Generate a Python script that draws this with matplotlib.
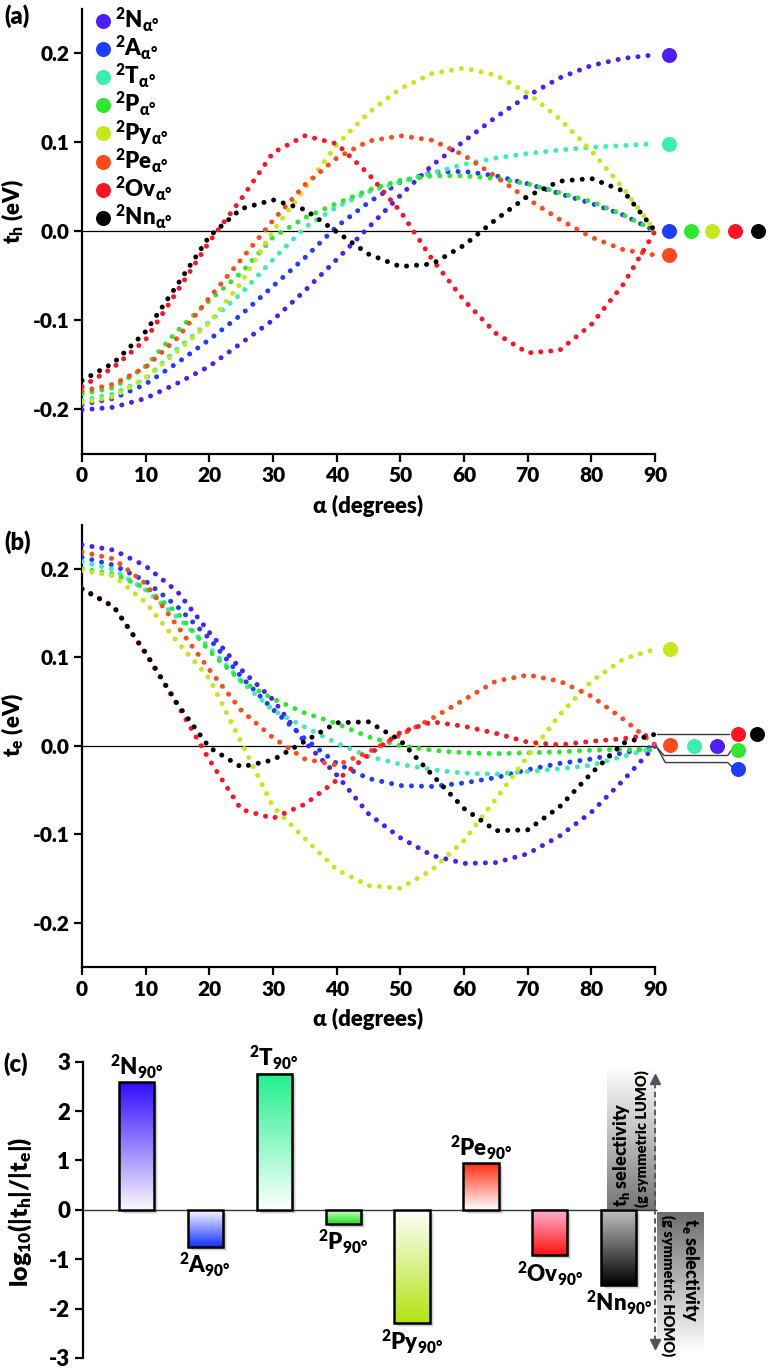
import numpy as np
import matplotlib
matplotlib.use("Agg")
import matplotlib.pyplot as plt
from matplotlib.colors import LinearSegmentedColormap
from matplotlib.patches import Rectangle
from matplotlib.transforms import offset_copy

# --- fonts
WEIGHT = 'heavy'
plt.rcParams['font.family'] = ['Lato', 'DejaVu Sans']
plt.rcParams['font.weight'] = WEIGHT
plt.rcParams['mathtext.fontset'] = 'custom'
for key in ['rm', 'it', 'bf', 'sf']:
    plt.rcParams['mathtext.' + key] = 'Lato:' + WEIGHT
plt.rcParams['mathtext.default'] = 'bf'
plt.rcParams['axes.linewidth'] = 1.6

# --- data (5 degree steps)
angle = [0, 5, 10, 15, 20, 25, 30, 35, 40, 45, 50, 55, 60, 65, 70, 75, 80, 85, 90]

systems = ['N', 'A', 'T', 'P', 'Py', 'Pe', 'Ov', 'Nn']
colors = ['#4b1ff5', '#1f3dff', '#3ceeb0', '#2ee82e', '#c5e81a', '#ff4a1c', '#ff1426', '#000000']

# hole transfer integral t_h (eV)
th_N = [-0.201, -0.198, -0.188, -0.171, -0.152, -0.126, -0.100, -0.067, -0.032, 0.004,
        0.040, 0.074, 0.101, 0.128, 0.152, 0.172, 0.186, 0.194, 0.198]
th_A = [-0.195, -0.188, -0.172, -0.148, -0.122, -0.094, -0.062, -0.030, 0.005, 0.032,
        0.055, 0.066, 0.067, 0.062, 0.053, 0.042, 0.031, 0.018, 0.000]
th_T = [-0.190, -0.183, -0.166, -0.132, -0.102, -0.070, -0.032, 0.004, 0.027, 0.044,
        0.055, 0.065, 0.075, 0.082, 0.087, 0.091, 0.094, 0.096, 0.098]
th_P = [-0.183, -0.176, -0.152, -0.112, -0.078, -0.047, -0.007, 0.015, 0.031, 0.046,
        0.057, 0.062, 0.062, 0.059, 0.053, 0.043, 0.033, 0.018, 0.000]
th_Py = [-0.193, -0.186, -0.165, -0.135, -0.103, -0.058, 0.000, 0.048, 0.097, 0.133,
         0.160, 0.177, 0.183, 0.175, 0.155, 0.126, 0.090, 0.048, 0.000]
th_Pe = [-0.180, -0.172, -0.153, -0.120, -0.075, -0.032, 0.012, 0.052, 0.082, 0.101,
         0.107, 0.102, 0.085, 0.061, 0.036, 0.013, -0.007, -0.021, -0.027]
th_Ov = [-0.175, -0.153, -0.122, -0.067, -0.012, 0.036, 0.088, 0.107, 0.098, 0.064,
         0.022, -0.032, -0.078, -0.115, -0.137, -0.134, -0.105, -0.060, 0.000]
th_Nn = [-0.168, -0.148, -0.113, -0.060, -0.006, 0.025, 0.035, 0.024, -0.001, -0.026,
         -0.040, -0.037, -0.016, 0.013, 0.039, 0.056, 0.059, 0.045, 0.000]

# electron transfer integral t_e (eV)
te_N = [0.227, 0.221, 0.203, 0.174, 0.128, 0.086, 0.052, 0.004, -0.033, -0.077,
        -0.104, -0.124, -0.133, -0.132, -0.122, -0.102, -0.075, -0.039, 0.000]
te_A = [0.213, 0.204, 0.186, 0.157, 0.121, 0.078, 0.041, 0.008, -0.020, -0.037,
        -0.045, -0.046, -0.042, -0.036, -0.027, -0.020, -0.015, -0.008, -0.001]
te_T = [0.208, 0.199, 0.176, 0.145, 0.111, 0.073, 0.040, 0.021, 0.003, -0.012,
        -0.021, -0.027, -0.031, -0.032, -0.029, -0.026, -0.022, -0.012, -0.002]
te_P = [0.200, 0.194, 0.178, 0.150, 0.107, 0.073, 0.053, 0.037, 0.025, 0.010,
        0.000, -0.005, -0.008, -0.009, -0.008, -0.007, -0.005, -0.004, -0.005]
te_Py = [0.198, 0.192, 0.162, 0.117, 0.076, 0.004, -0.069, -0.105, -0.140, -0.158,
         -0.161, -0.140, -0.107, -0.060, -0.012, 0.035, 0.073, 0.098, 0.109]
te_Pe = [0.219, 0.211, 0.183, 0.135, 0.086, 0.040, 0.009, -0.015, -0.022, -0.007,
         0.012, 0.031, 0.052, 0.073, 0.080, 0.073, 0.056, 0.030, 0.001]
te_Ov = [0.178, 0.157, 0.104, 0.046, -0.016, -0.072, -0.082, -0.066, -0.039, -0.010,
         0.015, 0.027, 0.022, 0.014, 0.004, 0.001, 0.005, 0.008, 0.013]
te_Nn = [0.177, 0.157, 0.105, 0.047, -0.002, -0.024, -0.016, 0.005, 0.026, 0.027,
         0.006, -0.033, -0.071, -0.096, -0.095, -0.069, -0.031, 0.003, 0.013]

# log10(|th|/|te|) at 90 degrees
log_ratio = [2.58, -0.75, 2.76, -0.28, -2.30, 0.94, -0.92, -1.52]

th_all = [th_N, th_A, th_T, th_P, th_Py, th_Pe, th_Ov, th_Nn]
te_all = [te_N, te_A, te_T, te_P, te_Py, te_Pe, te_Ov, te_Nn]

# --- layout helpers (pixel based, figure is 771 x 1370)
W, H = 771, 1370
fig = plt.figure(figsize=(W / 100, H / 100), dpi=100)


def px_axes(left, top, right, bottom):
    return fig.add_axes([left / W, 1 - bottom / H, (right - left) / W, (bottom - top) / H])


dot_style = dict(linestyle=(0, (0.01, 2.0)), linewidth=3.6, dash_capstyle='round')
tick_fs = 15
label_fs = 16


def style_curve_axes(ax, ylabel, ylab_y):
    ax.set_xlim(0, 108.2)
    ax.set_ylim(-0.25, 0.25)
    ax.spines['top'].set_visible(False)
    ax.spines['right'].set_visible(False)
    ax.spines['bottom'].set_bounds(0, 90)
    ax.set_xticks(range(0, 91, 10))
    ax.set_yticks([-0.2, -0.1, 0.0, 0.1, 0.2])
    ax.set_yticklabels(['-0.2', '-0.1', '0.0', '0.1', '0.2'])
    ax.tick_params(direction='out', length=5.5, width=1.6, labelsize=tick_fs, pad=3.5)
    for lab in ax.get_xticklabels() + ax.get_yticklabels():
        lab.set_fontweight(WEIGHT)
    ax.set_xlabel('α (degrees)', fontsize=label_fs, fontweight=WEIGHT)
    ax.xaxis.set_label_coords(90 / 2 / 108.2, -0.092)
    ax.set_ylabel(ylabel, fontsize=label_fs, fontweight=WEIGHT)
    ax.yaxis.set_label_coords(-0.082, ylab_y)
    ax.hlines(0, 0, 90, color='black', linewidth=0.9, zorder=1)


# --- Panel (a): t_h
ax_a = px_axes(82, 8.5, 771, 453.5)
style_curve_axes(ax_a, 't$_h$ (eV)', 0.543)
for ys, col in zip(th_all, colors):
    ax_a.plot(angle, ys, color=col, zorder=3, **dot_style)

a_marker_x = [92.2, 92.2, 92.2, 95.6, 99.0, 92.2, 102.6, 106.2]
for ys, col, mx in zip(th_all, colors, a_marker_x):
    ax_a.plot(mx, ys[-1], 'o', color=col, markersize=10.8, markeredgewidth=0, zorder=4, clip_on=False)

# legend drawn by hand
for i, (name, col) in enumerate(zip(systems, colors)):
    ypx = 21 + 28.1 * i
    yfrac = (453.5 - ypx) / 445
    ax_a.plot(0.030, yfrac, 'o', color=col, markersize=10.8, markeredgewidth=0,
              transform=ax_a.transAxes, clip_on=False)
    ax_a.text(0.048, yfrac - 7.5 / 445, '$^{2}$' + name + '$_{α°}$', transform=ax_a.transAxes,
              fontsize=label_fs, fontweight=WEIGHT, va='baseline', ha='left')

# --- Panel (b): t_e
ax_b = px_axes(82, 524.5, 771, 967)
style_curve_axes(ax_b, 't$_e$ (eV)', 0.547)
for ys, col in zip(te_all, colors):
    ax_b.plot(angle, ys, color=col, zorder=3, **dot_style)

b_marker_x = [99.7, 103.0, 96.1, 103.0, 92.4, 92.4, 103.0, 106.0]
b_marker_dy = [0.0, -0.025, 0.002, 0.0, 0.0, 0.0, 0.0, 0.0]
for ys, col, mx, dy in zip(te_all, colors, b_marker_x, b_marker_dy):
    ax_b.plot(mx, ys[-1] + dy, 'o', color=col, markersize=10.8, markeredgewidth=0, zorder=4, clip_on=False)

# guide lines from the curve ends to the offset markers
guide = dict(color='#3a3a3a', linewidth=1.0, zorder=2, clip_on=False)
ax_b.plot([90.3, 101.6], [0.013, 0.013], **guide)
ax_b.plot([90.3, 91.4, 101.4, 101.9], [-0.002, -0.011, -0.011, -0.006], **guide)
ax_b.plot([90.3, 91.6, 101.4, 102.1], [-0.002, -0.019, -0.019, -0.024], **guide)

# --- Panel (c): log ratio bars
ax_c = px_axes(83.3, 1061.7, 771, 1358)
ax_c.set_xlim(0.228, 10.21)
ax_c.set_ylim(-3, 3)
for s in ['top', 'right', 'bottom']:
    ax_c.spines[s].set_visible(False)
ax_c.set_xticks([])
ax_c.set_yticks(range(-3, 4))
ax_c.set_yticklabels([str(v) for v in range(-3, 4)])
ax_c.tick_params(direction='out', length=5.5, width=1.6, labelsize=tick_fs + 1, pad=4)
for lab in ax_c.get_yticklabels():
    lab.set_fontweight(WEIGHT)
ax_c.set_ylabel('log$_{10}$(|t$_h$|/|t$_e$|)', fontsize=18, fontweight=WEIGHT)
ax_c.yaxis.set_label_coords(-0.072, 0.494)

bar_x = np.arange(1, len(systems) + 1)
grad_near = ['#fdf8fc', '#ffffff', '#ffffff', '#c8ffc8', '#ffffff', '#ffffff', '#ffb4d2', '#c4c4c4']
grad_far = ['#300cff', '#1030ff', '#1ff08c', '#1fe01f', '#b2e310', '#ff2e10', '#ff1212', '#000000']

bars = ax_c.bar(bar_x, log_ratio, width=0.51, facecolor='none', edgecolor='black',
                linewidth=1.8, zorder=5)
grad = np.linspace(0, 1, 256).reshape(-1, 1)
for patch, c0, c1 in zip(bars, grad_near, grad_far):
    x0, w, h = patch.get_x(), patch.get_width(), patch.get_height()
    # soft drop shadow
    for off, al in [(4, 0.10), (3, 0.14), (2, 0.18)]:
        tr = offset_copy(ax_c.transData, fig=fig, x=off, y=-off, units='dots')
        ax_c.add_patch(Rectangle((x0, 0), w, h, transform=tr, facecolor='#404040',
                                 edgecolor='none', alpha=al, zorder=2))
    cmap = LinearSegmentedColormap.from_list('g', [c0, c1])
    ax_c.imshow(grad, cmap=cmap, extent=[x0, x0 + w, 0, h], origin='lower',
                aspect='auto', zorder=4, interpolation='bilinear')

for xb, v, name in zip(bar_x, log_ratio, systems):
    txt = '$^{2}$' + name + '$_{90°}$'
    if v > 0:
        ax_c.annotate(txt, (xb, v), xytext=(0, 1), textcoords='offset points',
                      ha='center', va='bottom', fontsize=label_fs, fontweight=WEIGHT)
    else:
        ax_c.annotate(txt, (xb, v), xytext=(0, -3), textcoords='offset points',
                      ha='center', va='top', fontsize=label_fs, fontweight=WEIGHT)

# zero line
ax_c.hlines(0, 0.228, 8.55, color='#333333', linewidth=1.0, zorder=3)

# selectivity boxes
box_grad = np.linspace(0, 1, 256).reshape(-1, 1)
ax_c.imshow(box_grad, cmap=LinearSegmentedColormap.from_list('u', ['#747474', '#bdbdbd', '#ffffff']),
            extent=[7.83, 8.53, 0, 2.9], origin='lower', aspect='auto', zorder=1)
ax_c.imshow(box_grad, cmap=LinearSegmentedColormap.from_list('d', ['#6c6c6c', '#b8b8b8', '#ffffff']),
            extent=[8.55, 9.22, -0.05, -2.9], origin='lower', aspect='auto', zorder=1)
ax_c.set_xlim(0.228, 10.21)
ax_c.set_ylim(-3, 3)

ax_c.text(8.04, 0.06, 't$_h$ selectivity', rotation=90, rotation_mode='anchor',
          ha='left', va='center', fontsize=13, fontweight=WEIGHT, zorder=6)
ax_c.text(8.33, 0.06, '(g symmetric LUMO)', rotation=90, rotation_mode='anchor',
          ha='left', va='center', fontsize=10.5, fontweight=WEIGHT, zorder=6)
ax_c.text(9.04, -0.16, 't$_e$ selectivity', rotation=270, rotation_mode='anchor',
          ha='left', va='center', fontsize=13, fontweight=WEIGHT, zorder=6)
ax_c.text(8.72, -0.10, '(g symmetric HOMO)', rotation=270, rotation_mode='anchor',
          ha='left', va='center', fontsize=10.5, fontweight=WEIGHT, zorder=6)

# dashed double arrow
arrow_col = '#4a545c'
ax_c.plot([8.52, 8.52], [-2.66, 2.58], linestyle=(0, (3, 2)), color=arrow_col, linewidth=1.3, zorder=6)
ax_c.plot(8.52, 2.64, marker='^', markersize=7, color=arrow_col, zorder=6, clip_on=False)
ax_c.plot(8.52, -2.72, marker='v', markersize=7, color=arrow_col, zorder=6, clip_on=False)

# --- panel letters
fig.text(4 / W, 1 - 16 / H, '(a)', fontsize=17, fontweight=WEIGHT, va='center', ha='left')
fig.text(4 / W, 1 - 542 / H, '(b)', fontsize=17, fontweight=WEIGHT, va='center', ha='left')
fig.text(3 / W, 1 - 1064 / H, '(c)', fontsize=17, fontweight=WEIGHT, va='center', ha='left')

fig.savefig('out.png', dpi=100)
